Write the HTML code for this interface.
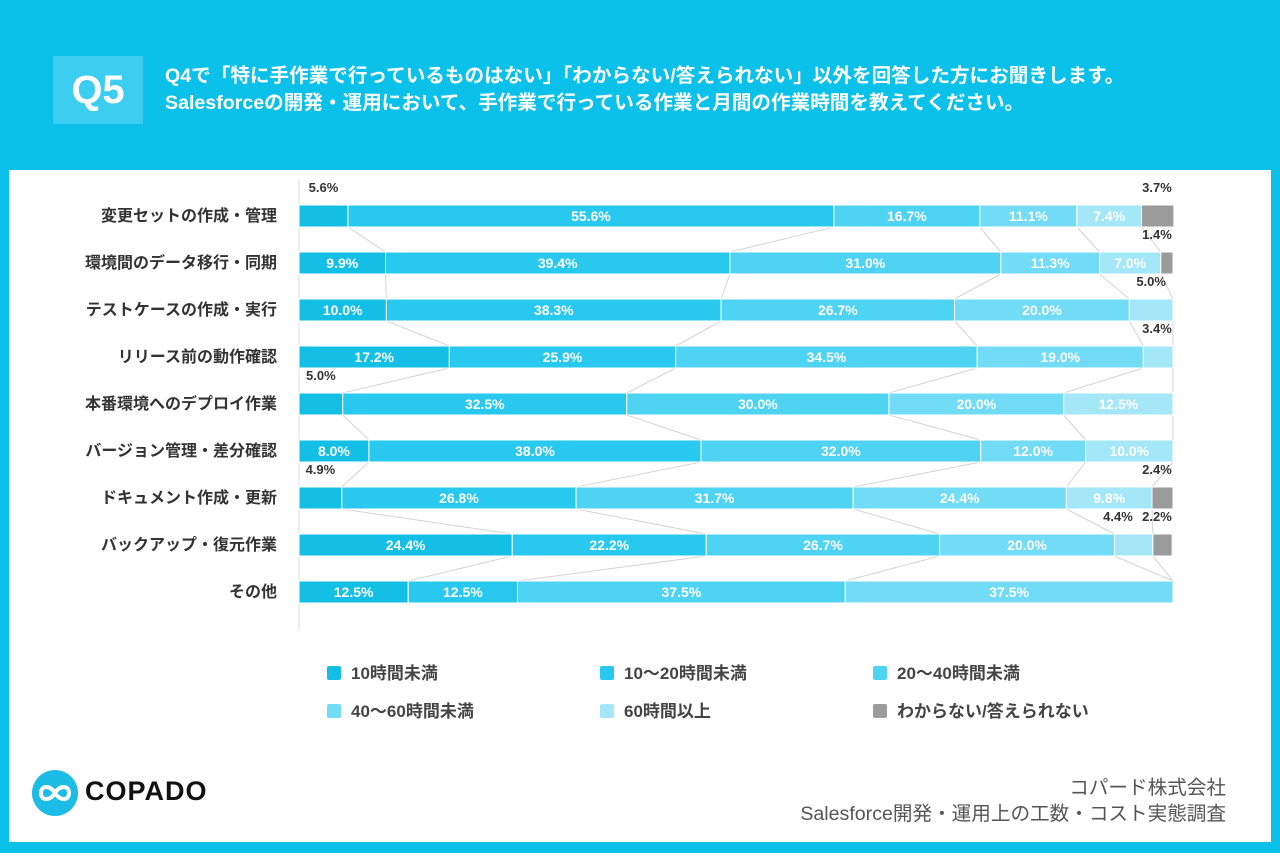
<!DOCTYPE html>
<html><head><meta charset="utf-8">
<style>
body{margin:0;width:1280px;height:853px;background:#0bc1e9;position:relative;overflow:hidden;font-family:"Liberation Sans","Noto Sans CJK JP",sans-serif;}
.panel{position:absolute;left:9px;top:170px;width:1262px;height:672px;background:#fff;}
.q5{position:absolute;left:53px;top:56px;width:90px;height:68px;background:#3ccdf0;color:#fff;font-size:40px;font-weight:bold;text-align:center;line-height:68px;}
.title{position:absolute;left:165px;top:63px;color:#fff;font-size:19.6px;font-weight:bold;line-height:27px;white-space:nowrap;}
svg{position:absolute;left:0;top:0;}
.credit{position:absolute;right:54px;top:775px;text-align:right;color:#555;font-size:19.6px;line-height:26px;white-space:nowrap;}
.logo{position:absolute;left:32px;top:770px;width:46px;height:46px;border-radius:50%;background:#1bbde6;}
.logotext{position:absolute;left:85px;top:776px;font-size:27px;font-weight:bold;color:#111;letter-spacing:1px;}
</style></head><body>
<div class="q5">Q5</div>
<div class="title">Q4で「特に手作業で行っているものはない」「わからない/答えられない」以外を回答した方にお聞きします。<br>Salesforceの開発・運用において、手作業で行っている作業と月間の作業時間を教えてください。</div>
<div class="panel"></div>
<svg id="chart" width="1280" height="853"></svg>
<div class="logo"><svg width="46" height="46" style="position:absolute;left:0;top:0"><path d="M23 23 C18 15,9 15,9 23 C9 31,18 31,23 23 C28 15,37 15,37 23 C37 31,28 31,23 23Z" fill="none" stroke="#fff" stroke-width="4"/></svg></div>
<div class="logotext">COPADO</div>
<div class="credit">コパード株式会社<br>Salesforce開発・運用上の工数・コスト実態調査</div>
<script>
const categories=["変更セットの作成・管理","環境間のデータ移行・同期","テストケースの作成・実行","リリース前の動作確認","本番環境へのデプロイ作業","バージョン管理・差分確認","ドキュメント作成・更新","バックアップ・復元作業","その他"];
const seriesNames=["10時間未満","10〜20時間未満","20〜40時間未満","40〜60時間未満","60時間以上","わからない/答えられない"];
const s1=[5.6,9.9,10.0,17.2,5.0,8.0,4.9,24.4,12.5];
const s2=[55.6,39.4,38.3,25.9,32.5,38.0,26.8,22.2,12.5];
const s3=[16.7,31.0,26.7,34.5,30.0,32.0,31.7,26.7,37.5];
const s4=[11.1,11.3,20.0,19.0,20.0,12.0,24.4,20.0,37.5];
const s5=[7.4,7.0,5.0,3.4,12.5,10.0,9.8,4.4,0];
const s6=[3.7,1.4,0,0,0,0,2.4,2.2,0];
const series=[s1,s2,s3,s4,s5,s6];
const colors=["#14bfe6","#29c9ef","#4fd3f3","#72dbf5","#a3e7f8","#9b9b9b"];
const NS="http://www.w3.org/2000/svg";
const svg=document.getElementById('chart');
const X0=299,W=874,Y0=216,DY=47,BH=22;
const xs=v=>X0+v/100*W;
const yc=i=>Y0+i*DY;
function mk(t,a){const e=document.createElementNS(NS,t);for(const k in a)e.setAttribute(k,a[k]);svg.appendChild(e);return e;}
let ax=mk('line',{x1:X0,y1:180,x2:X0,y2:630,stroke:'#ddd','stroke-width':1});


const cums=categories.map((c,i)=>{let a=[0];series.forEach(s=>a.push(a[a.length-1]+s[i]));return a;});
for(let i=0;i<categories.length-1;i++){for(let k=1;k<6;k++){
 let l=mk('line',{x1:xs(cums[i][k]),y1:yc(i)+BH/2,x2:xs(cums[i+1][k]),y2:yc(i+1)-BH/2,stroke:'#d4d4d4','stroke-width':1});
 
 
}}
categories.forEach((c,i)=>{
 let t=mk('text',{x:277,y:yc(i)+5,'text-anchor':'end','font-size':16,'font-weight':'bold',fill:'#333'});t.textContent=c;
 
 
 series.forEach((s,k)=>{
  const v=s[i];if(!v)return;
  const x1=xs(cums[i][k]),x2=xs(cums[i][k+1]);
  let r=mk('rect',{x:x1,y:yc(i)-BH/2,width:x2-x1,height:BH,fill:colors[k],stroke:'#fff','stroke-width':1});
  
  
  let lb;
  if(v>=7){
   lb=mk('text',{x:(x1+x2)/2,y:yc(i)+5,'text-anchor':'middle','font-size':14,'font-weight':'bold',fill:'#fff'});
  }else{
   let cx=Math.min((x1+x2)/2,1157);
   if(k===4&&s6[i]>0)cx=Math.min(cx,1118);
   lb=mk('text',{x:cx,y:yc(i)-BH/2-13,'text-anchor':'middle','font-size':13,'font-weight':'bold',fill:'#333'});
  }
  lb.textContent=v.toFixed(1)+'%';
  
  
 });
});
const lx=[327,600,873],ly=[673,711];
seriesNames.forEach((n,k)=>{
 const x=lx[k%3],y=ly[Math.floor(k/3)];
 let r=mk('rect',{x:x,y:y-7,width:14,height:14,rx:2,fill:colors[k]});
 
 
 let t=mk('text',{x:x+24,y:y+6,'font-size':17,'font-weight':'bold',fill:'#444'});t.textContent=n;
 
 
});
</script>
</body></html>
